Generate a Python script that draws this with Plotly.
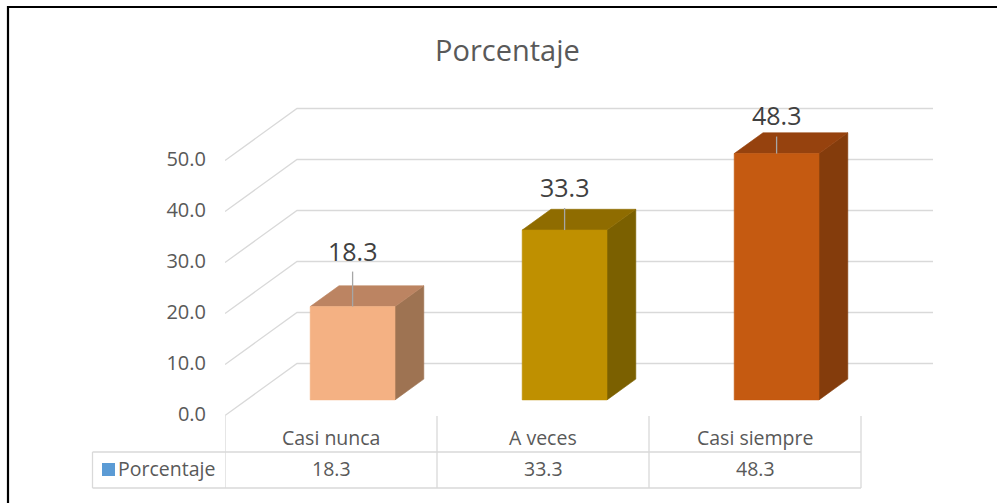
import plotly.graph_objects as go

# ---- data ----
categories = ["Casi nunca", "A veces", "Casi siempre"]
values = [18.3, 33.3, 48.3]
series_name = "Porcentaje"
y_ticks = [0, 10, 20, 30, 40, 50]
title_text = "Porcentaje"

# ---- style ----
W, H = 997, 503
ML = 225                      # left margin (px) -> y axis position
PX_PER_CAT = 212              # pixels per category slot
PX_PER_UNIT = 5.1             # pixels per value unit
ZERO_PY = 415.5               # pixel row of value 0 at front depth
DEPTH_DX = 72 / PX_PER_CAT    # oblique offset (x axis units) for full depth
DEPTH_DY = 52 / PX_PER_UNIT   # oblique offset (value units) for full depth
BAR_HALF = 0.2
BAR_D0, BAR_D1 = 0.3, 0.7
front_cols = ["#F4B183", "#BF9000", "#C55A11"]
top_cols = ["#BC8462", "#8F6C00", "#96420E"]
side_cols = ["#9E7352", "#7B6000", "#843C0C"]
grid_col = "#D9D9D9"
text_col = "#595959"
label_col = "#404040"
leader_col = "#A6A6A6"
leader_len = [35, 22, 17]
label_shift = [56, 43, 39]
FONT = "Open Sans"

x_range = [0, (W - ML) / PX_PER_CAT]
y_range = [(ZERO_PY - H) / PX_PER_UNIT, ZERO_PY / PX_PER_UNIT]


def proj(u, v, d):
    return u + DEPTH_DX * d, v + DEPTH_DY * d


def px_to_paper_x(px):
    return (px - ML) / (W - ML)


def py_to_paper_y(py):
    return (H - py) / H


fig = go.Figure()

# gridlines: side wall + back wall
n_cat = len(categories)
for t in y_ticks:
    pts = [proj(0, t, 0), proj(0, t, 1), proj(n_cat, t, 1)]
    fig.add_trace(go.Scatter(x=[p[0] for p in pts], y=[p[1] for p in pts], mode="lines",
                             line=dict(color=grid_col, width=1.3), hoverinfo="skip",
                             showlegend=False))

# 3D bars
for i, v in enumerate(values):
    c = i + 0.5
    u0, u1 = c - BAR_HALF, c + BAR_HALF
    faces = [
        ([(u1, 0, BAR_D0), (u1, 0, BAR_D1), (u1, v, BAR_D1), (u1, v, BAR_D0)], side_cols[i]),
        ([(u0, v, BAR_D0), (u1, v, BAR_D0), (u1, v, BAR_D1), (u0, v, BAR_D1)], top_cols[i]),
        ([(u0, 0, BAR_D0), (u1, 0, BAR_D0), (u1, v, BAR_D0), (u0, v, BAR_D0)], front_cols[i]),
    ]
    for pts3, col in faces:
        pts = [proj(*p) for p in pts3]
        pts.append(pts[0])
        fig.add_trace(go.Scatter(x=[p[0] for p in pts], y=[p[1] for p in pts], mode="lines",
                                 fill="toself", fillcolor=col, line=dict(color=col, width=0.6),
                                 hoverinfo="skip", showlegend=False))
    lx, ly = proj(c, v, BAR_D0)
    fig.add_shape(type="line", xref="x", yref="y", x0=lx, x1=lx, ysizemode="pixel",
                  yanchor=ly, y0=0, y1=leader_len[i], line=dict(color=leader_col, width=1.3))
    fig.add_annotation(x=lx, y=ly, xref="x", yref="y", text=f"{v:.1f}", showarrow=False,
                       yshift=label_shift[i], xanchor="center", yanchor="middle",
                       font=dict(family=FONT, size=25, color=label_col))

# data table
tbl_left, tbl_top, tbl_mid, tbl_bot = 92.5, 416, 452, 488
for k in range(n_cat + 1):
    fig.add_shape(type="line", xref="x", yref="paper", x0=k, x1=k,
                  y0=py_to_paper_y(tbl_top), y1=py_to_paper_y(tbl_bot),
                  line=dict(color=grid_col, width=1.3))
for py in (tbl_mid, tbl_bot):
    fig.add_shape(type="line", xref="paper", yref="paper", x0=px_to_paper_x(tbl_left),
                  x1=px_to_paper_x(ML + n_cat * PX_PER_CAT), y0=py_to_paper_y(py), y1=py_to_paper_y(py),
                  line=dict(color=grid_col, width=1.3))
fig.add_shape(type="line", xref="paper", yref="paper", x0=px_to_paper_x(tbl_left),
              x1=px_to_paper_x(tbl_left), y0=py_to_paper_y(tbl_mid), y1=py_to_paper_y(tbl_bot),
              line=dict(color=grid_col, width=1.3))
for i, (cat, v) in enumerate(zip(categories, values)):
    fig.add_annotation(x=i + 0.5, xref="x", y=py_to_paper_y(437), yref="paper", text=cat,
                       showarrow=False, xanchor="center", yanchor="middle",
                       font=dict(family=FONT, size=19.5, color=text_col))
    fig.add_annotation(x=i + 0.5, xref="x", y=py_to_paper_y(468), yref="paper", text=f"{v:.1f}",
                       showarrow=False, xanchor="center", yanchor="middle",
                       font=dict(family=FONT, size=19.5, color=text_col))
# legend key
fig.add_shape(type="rect", xref="paper", yref="paper", x0=px_to_paper_x(102), x1=px_to_paper_x(115),
              y0=py_to_paper_y(463), y1=py_to_paper_y(476), fillcolor="#5B9BD5", line=dict(width=0))
fig.add_annotation(x=px_to_paper_x(116), xref="paper", y=py_to_paper_y(468), yref="paper",
                   text=series_name, showarrow=False, xanchor="left", yanchor="middle",
                   font=dict(family=FONT, size=19.5, color=text_col))

# title
fig.add_annotation(x=px_to_paper_x(507.5), xref="paper", y=py_to_paper_y(49), yref="paper",
                   text=title_text, showarrow=False, xanchor="center", yanchor="middle",
                   font=dict(family=FONT, size=29, color=text_col))

# outer frame (top & left edges visible)
fig.add_shape(type="line", xref="paper", yref="paper", x0=px_to_paper_x(8), x1=px_to_paper_x(1000),
              y0=py_to_paper_y(7), y1=py_to_paper_y(7), line=dict(color="black", width=2.2))
fig.add_shape(type="line", xref="paper", yref="paper", x0=px_to_paper_x(8), x1=px_to_paper_x(8),
              y0=py_to_paper_y(6), y1=py_to_paper_y(510), line=dict(color="black", width=2.2))

fig.update_layout(
    width=W, height=H, margin=dict(l=ML, r=0, t=0, b=0),
    paper_bgcolor="white", plot_bgcolor="white", showlegend=False,
    xaxis=dict(range=x_range, showgrid=False, zeroline=False, showticklabels=False,
               showline=False, fixedrange=True),
    yaxis=dict(range=y_range, showgrid=False, zeroline=False, showline=False,
               tickvals=y_ticks, tickformat=".1f", ticks="", ticklabelstandoff=18,
               ticklabelshift=-2, tickfont=dict(family=FONT, size=20, color=text_col),
               fixedrange=True),
)

fig.write_html("out.html", config={"displayModeBar": False},
               post_script="document.body.style.margin='0';")
